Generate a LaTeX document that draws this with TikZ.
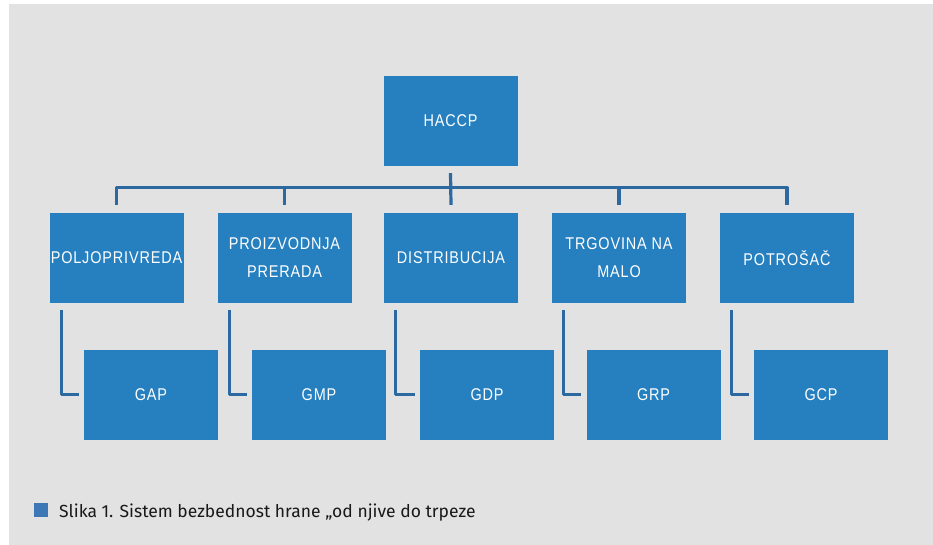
\documentclass[tikz,border=0pt]{standalone}
\usepackage{fontspec}
\setmainfont{Liberation Sans}
\newfontfamily\boxfont[FakeStretch=0.85,LetterSpace=5]{Liberation Sans}
\newfontfamily\capfont{Fira Sans}
\definecolor{bg}{RGB}{226,226,226}
\definecolor{boxblue}{RGB}{38,128,192}
\definecolor{lineblue}{RGB}{44,105,160}
\definecolor{capblue}{RGB}{61,119,181}
\definecolor{captext}{RGB}{25,25,25}
\tikzset{
  box/.style={fill=boxblue, text=white, minimum width=134pt, minimum height=90pt,
    inner sep=0pt, align=center, font=\boxfont\fontsize{17}{28}\selectfont},
  conn/.style={draw=lineblue, line width=3.2pt, line join=round}
}
\begin{document}
\begin{tikzpicture}[x=1pt,y=-1pt]
\useasboundingbox (0,0) rectangle (933,545);
\fill[bg] (9,4) rectangle (933,545);
% top
\node[box] (h) at (450.5,121) {HACCP};
% level 1
\node[box] (a) at (116.5,258) {POLJOPRIVREDA};
\node[box] (b) at (284.5,258) {PROIZVODNJA\\PRERADA};
\node[box] (c) at (451,258) {DISTRIBUCIJA};
\node[box] (d) at (619,258) {TRGOVINA NA\\MALO};
\node[box] (e) at (787,258) {POTROŠAČ};
% level 2
\node[box] (ga) at (151,394.5) {GAP};
\node[box] (gb) at (319,394.5) {GMP};
\node[box] (gc) at (487,394.5) {GDP};
\node[box] (gd) at (653.5,394.5) {GRP};
\node[box] (ge) at (821,394.5) {GCP};
% tree connectors
\draw[conn] ([yshift=8pt]a.north) -- ([yshift=25pt]a.north) -- ([yshift=25pt]e.north) -- ([yshift=8pt]e.north);
\draw[conn] ([yshift=25pt]b.north) -- ([yshift=8pt]b.north);
\draw[conn] ([yshift=25pt]d.north) -- ([yshift=8pt]d.north);
\draw[conn] ([yshift=-7pt]h.south) -- ([yshift=8pt]c.north);
% elbows
\foreach \u/\l in {a/ga,b/gb,c/gc,d/gd,e/ge}{
  \draw[conn] ([xshift=12pt,yshift=-7pt]\u.south west) |- ([xshift=-5pt]\l.west);
}
% caption
\fill[capblue] (34,503) rectangle (48,517) coordinate (sq);
\node[anchor=base west, inner sep=0pt, text=captext, font=\capfont\fontsize{17.5}{20}\selectfont] (cap) at (59,517)
  {Slika 1. Sistem bezbednost hrane „od njive do trpeze};
\end{tikzpicture}
\end{document}
